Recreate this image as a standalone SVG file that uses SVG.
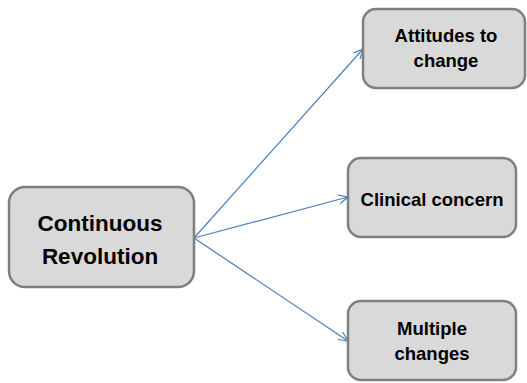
<svg xmlns="http://www.w3.org/2000/svg" width="527" height="383" viewBox="0 0 527 383">
  <style>
    .box { fill: #d9d9d9; stroke: #7f7f7f; stroke-width: 2.5; }
    .lbl { font-family: "Liberation Sans", Arial, sans-serif; font-weight: bold; fill: #000; text-anchor: middle; }
    .big { font-size: 22.5px; }
    .small { font-size: 18.5px; }
    .link { stroke: #4a7ebb; stroke-width: 1.2; fill: none; marker-end: url(#open); }
  </style>
  <defs>
    <marker id="open" viewBox="0 0 10 10" refX="9.5" refY="5" markerWidth="10" markerHeight="10" markerUnits="userSpaceOnUse" orient="auto">
      <path d="M0,0.5 L9.5,5 L0,9.5" fill="none" stroke="#4a7ebb" stroke-width="1.2"/>
    </marker>
  </defs>

  <g id="connectors">
    <line class="link" x1="194" y1="238" x2="363" y2="49"/>
    <line class="link" x1="194" y1="238" x2="348" y2="197"/>
    <line class="link" x1="194" y1="238" x2="348" y2="341"/>
  </g>

  <g id="continuous-revolution">
    <rect class="box" x="9" y="187" width="185" height="100" rx="16"/>
    <text class="lbl big" x="100" y="231">Continuous</text>
    <text class="lbl big" x="100" y="264">Revolution</text>
  </g>

  <g id="attitudes-to-change">
    <rect class="box" x="363" y="9" width="162" height="79" rx="13"/>
    <text class="lbl small" x="446" y="42">Attitudes to</text>
    <text class="lbl small" x="446" y="67">change</text>
  </g>

  <g id="clinical-concern">
    <rect class="box" x="348" y="158" width="168" height="79" rx="13"/>
    <text class="lbl small" x="432" y="206">Clinical concern</text>
  </g>

  <g id="multiple-changes">
    <rect class="box" x="348" y="301" width="168" height="79" rx="13"/>
    <text class="lbl small" x="432" y="335">Multiple</text>
    <text class="lbl small" x="432" y="360">changes</text>
  </g>
</svg>
